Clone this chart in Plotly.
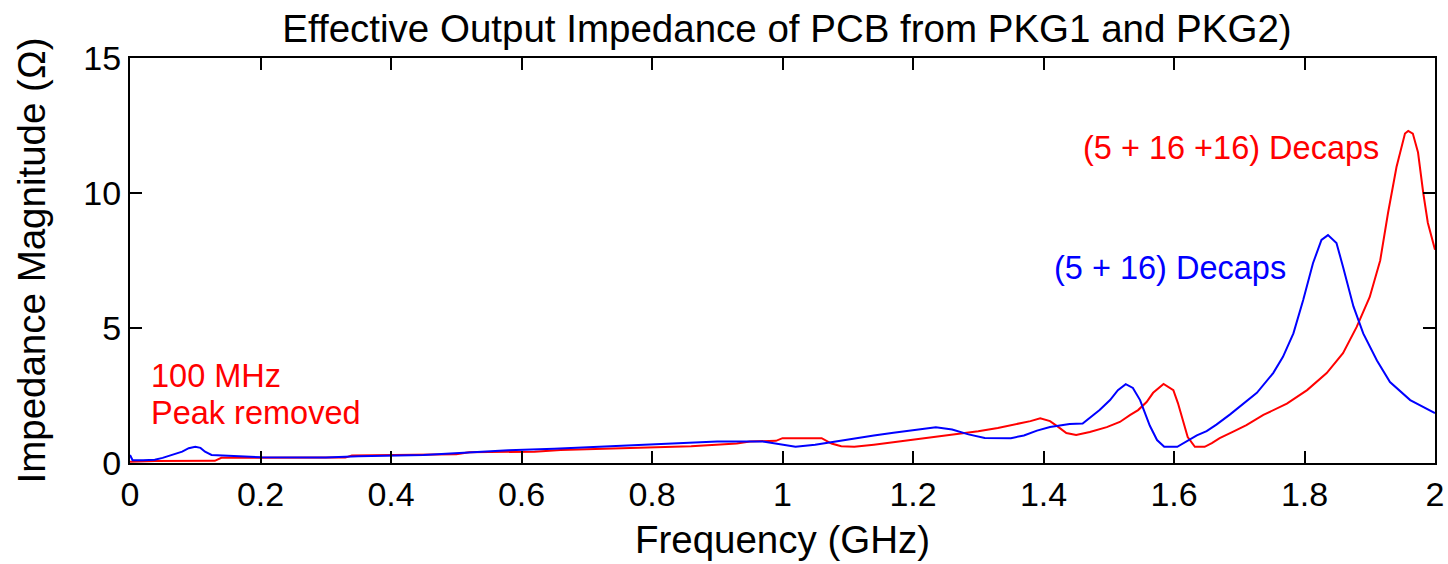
import plotly.graph_objects as go

# Frequency sweep (GHz) and impedance magnitude (ohm) for the two decap configurations
freq_21 = [0.000, 0.004, 0.020, 0.038, 0.050, 0.065, 0.080, 0.090, 0.100, 0.108, 0.115, 0.125,
           0.160, 0.200, 0.300, 0.350, 0.450, 0.500, 0.580, 0.650, 0.700, 0.760, 0.820, 0.900,
           0.970, 0.990, 1.020, 1.050, 1.080, 1.110, 1.140, 1.170, 1.200, 1.235, 1.260, 1.285,
           1.310, 1.350, 1.370, 1.390, 1.410, 1.440, 1.460, 1.471, 1.486, 1.502, 1.514, 1.526,
           1.537, 1.548, 1.556, 1.563, 1.574, 1.585, 1.605, 1.620, 1.635, 1.650, 1.665, 1.686,
           1.711, 1.727, 1.752, 1.767, 1.783, 1.798, 1.813, 1.826, 1.836, 1.849, 1.859, 1.875,
           1.890, 1.911, 1.931, 1.962, 2.000]
z_21 = [0.30, 0.10, 0.10, 0.12, 0.19, 0.30, 0.42, 0.55, 0.60, 0.56, 0.42, 0.30,
        0.26, 0.21, 0.20, 0.25, 0.30, 0.37, 0.47, 0.53, 0.58, 0.65, 0.72, 0.80,
        0.80, 0.72, 0.60, 0.68, 0.80, 0.92, 1.02, 1.12, 1.22, 1.32, 1.24, 1.06,
        0.93, 0.92, 1.02, 1.20, 1.33, 1.44, 1.46, 1.66, 1.96, 2.33, 2.70, 2.92,
        2.78, 2.33, 1.85, 1.38, 0.85, 0.60, 0.60, 0.80, 1.02, 1.18, 1.42, 1.80,
        2.30, 2.60, 3.33, 3.93, 4.80, 6.04, 7.40, 8.26, 8.44, 8.15, 7.27, 5.80,
        4.80, 3.80, 3.00, 2.33, 1.85]

freq_37 = [0.000, 0.038, 0.130, 0.140, 0.180, 0.330, 0.340, 0.500, 0.520, 0.620, 0.660, 0.760,
           0.860, 0.930, 0.950, 0.990, 1.000, 1.060, 1.075, 1.090, 1.110, 1.140, 1.180, 1.220,
           1.260, 1.300, 1.330, 1.360, 1.380, 1.395, 1.410, 1.423, 1.435, 1.450, 1.471, 1.497,
           1.517, 1.533, 1.545, 1.558, 1.568, 1.584, 1.599, 1.606, 1.614, 1.621, 1.632, 1.647,
           1.658, 1.670, 1.690, 1.711, 1.737, 1.773, 1.804, 1.834, 1.859, 1.880, 1.900, 1.916,
           1.928, 1.941, 1.954, 1.959, 1.966, 1.974, 1.982, 1.989, 2.000]
z_37 = [0.05, 0.07, 0.08, 0.19, 0.19, 0.20, 0.28, 0.32, 0.40, 0.42, 0.48, 0.55,
        0.62, 0.72, 0.80, 0.82, 0.92, 0.92, 0.72, 0.62, 0.60, 0.68, 0.80, 0.92,
        1.04, 1.18, 1.30, 1.44, 1.55, 1.66, 1.55, 1.33, 1.11, 1.04, 1.15, 1.33,
        1.52, 1.78, 1.96, 2.26, 2.60, 2.93, 2.70, 2.22, 1.59, 0.96, 0.60, 0.60,
        0.74, 0.92, 1.15, 1.40, 1.78, 2.20, 2.70, 3.33, 4.07, 5.04, 6.15, 7.50,
        9.26, 10.96, 12.20, 12.30, 12.20, 11.50, 10.00, 8.90, 7.90]

x_ticks = [0, 0.2, 0.4, 0.6, 0.8, 1.0, 1.2, 1.4, 1.6, 1.8, 2.0]
x_tick_text = ["0", "0.2", "0.4", "0.6", "0.8", "1", "1.2", "1.4", "1.6", "1.8", "2"]
y_ticks = [0, 5, 10, 15]
y_tick_text = ["0", "5", "10", "15"]

FONT = "Liberation Sans, Arial, sans-serif"

fig = go.Figure()
fig.add_trace(go.Scatter(x=freq_37, y=z_37, mode="lines",
                         line=dict(color="#ff0000", width=2), name="(5 + 16 +16) Decaps"))
fig.add_trace(go.Scatter(x=freq_21, y=z_21, mode="lines",
                         line=dict(color="#0000ff", width=2), name="(5 + 16) Decaps"))

axis_common = dict(showline=True, linecolor="black", linewidth=2, mirror="ticks",
                   ticks="inside", ticklen=12, tickwidth=2, tickcolor="black",
                   showgrid=False, zeroline=False, automargin=False,
                   tickfont=dict(family=FONT, size=34, color="black"))

fig.update_xaxes(range=[0, 2], tickvals=x_ticks, ticktext=x_tick_text,
                 title=dict(text="Frequency (GHz)", font=dict(family=FONT, size=38.5, color="black"),
                            standoff=14),
                 **axis_common)
fig.update_yaxes(range=[0, 15], tickvals=y_ticks, ticktext=y_tick_text,
                 title=dict(text="Impedance Magnitude (Ω)", font=dict(family=FONT, size=38.5, color="black"),
                            standoff=26),
                 **axis_common)

ann_font = dict(family=FONT, size=32.5)
fig.add_annotation(x=1.687, y=11.67, text="(5 + 16 +16) Decaps", showarrow=False,
                   font=dict(color="#ff0000", **ann_font))
fig.add_annotation(x=1.594, y=7.22, text="(5 + 16) Decaps", showarrow=False,
                   font=dict(color="#0000ff", **ann_font))
fig.add_annotation(x=0.029, y=3.22, text="100 MHz", showarrow=False, xanchor="left",
                   font=dict(color="#ff0000", **ann_font))
fig.add_annotation(x=0.029, y=1.85, text="Peak removed", showarrow=False, xanchor="left",
                   font=dict(color="#ff0000", **ann_font))

fig.update_layout(
    width=1448, height=564,
    margin=dict(l=130, r=13, t=58, b=101, autoexpand=False),
    paper_bgcolor="white", plot_bgcolor="white",
    showlegend=False,
    title=dict(text="Effective Output Impedance of PCB from PKG1 and PKG2)",
               x=0.5435, xanchor="center", y=0.95, yanchor="middle",
               font=dict(family=FONT, size=38.5, color="black")),
)

fig.write_html("out.html")
